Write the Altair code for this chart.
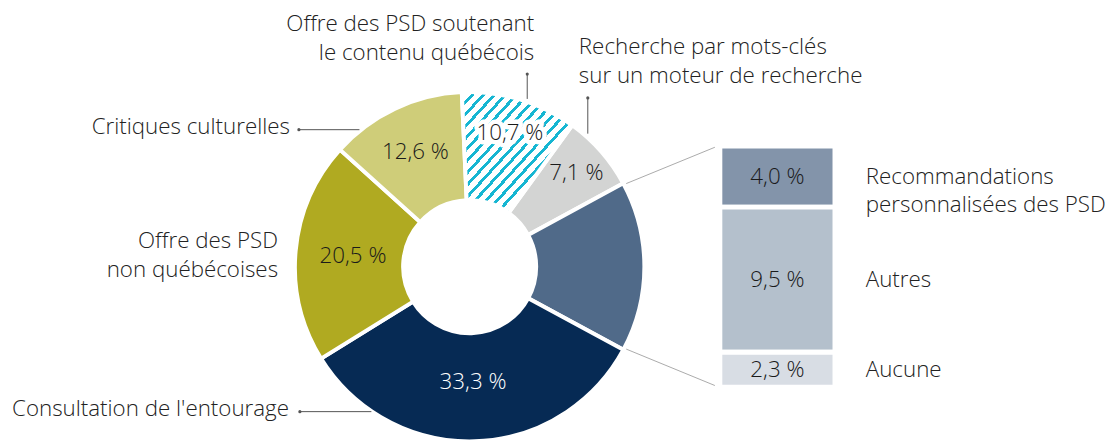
import math
import altair as alt
import pandas as pd

# ---- data -------------------------------------------------------------
categories = [
    "Offre des PSD soutenant le contenu québécois",
    "Recherche par mots-clés sur un moteur de recherche",
    "Recommandations (détail)",
    "Consultation de l'entourage",
    "Offre des PSD non québécoises",
    "Critiques culturelles",
]
shares = [10.7, 7.1, 15.8, 33.3, 20.5, 12.6]
slice_colors = ["#ffffff", "#d3d4d3", "#506a89", "#062a54", "#b0aa21", "#cfcd79"]

sub_categories = ["Recommandations personnalisées des PSD", "Autres", "Aucune"]
sub_labels = ["Recommandations\npersonnalisées des PSD", "Autres", "Aucune"]
sub_shares = [4.0, 9.5, 2.3]
sub_colors = ["#8394aa", "#b4c0cc", "#d8dde4"]

hatch_cat = categories[0]

# ---- tables -----------------------------------------------------------
donut_df = pd.DataFrame({"cat": categories, "v": shares, "ord": list(range(len(categories)))})
bar_df = pd.DataFrame({
    "sub": sub_categories,
    "lab": sub_labels,
    "v": sub_shares,
    "ord": [2, 1, 0],
})

FONT = "Open Sans"
FW = 300
FS = 22.5
FSN = 22.5
TXT = "#222222"
CX, CY = 465, 259
R_OUT, R_IN = 176, 67
theta_scale = alt.Scale(domain=[0, 100], range=[-0.045, 2 * math.pi - 0.045])

label_expr = "replace(format(datum.v, '.1f'), '.', ',') + ' %'"

donut_base = (
    alt.Chart(donut_df)
    .transform_stack(stack="v", groupby=[], as_=["v0", "v1"], sort=[alt.SortField("ord")])
    .transform_calculate(mid="(datum.v0 + datum.v1) / 2", lab=label_expr)
)

arcs = donut_base.mark_arc(
    innerRadius=R_IN, outerRadius=R_OUT, stroke="white", strokeWidth=4, x=CX, y=CY
).encode(
    theta=alt.Theta("v0:Q", scale=theta_scale),
    theta2="v1:Q",
    color=alt.Color("cat:N", scale=alt.Scale(domain=categories, range=slice_colors), legend=None),
)

# hatched fill made of hard-stop gradient stripes
cyan, white = "#16b6d2", "#ffffff"
n_stripes, frac = 20, 0.36
stops = []
for i in range(n_stripes):
    a, b, c = i / n_stripes, (i + frac) / n_stripes, (i + 1) / n_stripes
    stops += [
        alt.GradientStop(offset=a, color=cyan),
        alt.GradientStop(offset=b, color=cyan),
        alt.GradientStop(offset=b, color=white),
        alt.GradientStop(offset=c, color=white),
    ]
hatch_fill = alt.LinearGradient(gradient="linear", stops=stops, x1=0, y1=0, x2=1, y2=1)

hatch = donut_base.transform_filter(alt.datum.cat == hatch_cat).mark_arc(
    innerRadius=R_IN, outerRadius=R_OUT, stroke="white", strokeWidth=4, x=CX, y=CY, fill=hatch_fill
).encode(
    theta=alt.Theta("v0:Q", scale=theta_scale),
    theta2="v1:Q",
)


def slice_label(test, radius, color="#1a1a1a", halo=False):
    kw = dict(radius=radius, x=CX, y=CY, font=FONT, fontSize=FSN, fontWeight=FW,
              align="center", baseline="middle")
    if halo:
        kw.update(stroke="white", strokeWidth=9, strokeJoin="round", fill="white")
    else:
        kw.update(fill=color)
    return donut_base.transform_filter(test).mark_text(**kw).encode(
        theta=alt.Theta("mid:Q", scale=theta_scale),
        text="lab:N",
    )


lab_halo = slice_label(alt.datum.cat == hatch_cat, 141, halo=True)
lab_hatch = slice_label(alt.datum.cat == hatch_cat, 141)
lab_gray = slice_label(alt.datum.cat == categories[1], 143)
lab_navy = slice_label(alt.datum.cat == categories[3], 116, color="#ffffff")
lab_olive = slice_label(alt.datum.cat == categories[4], 118)
lab_light = slice_label(alt.datum.cat == categories[5], 128)

# ---- stacked bar (detail) ---------------------------------------------
y_scale = alt.Scale(domain=[0, 15.8], range=[380.5, 137.5])
bar_base = (
    alt.Chart(bar_df)
    .transform_stack(stack="v", groupby=[], as_=["v0", "v1"], sort=[alt.SortField("ord")])
    .transform_calculate(mid="(datum.v0 + datum.v1) / 2", txt=label_expr)
)
bars = bar_base.mark_bar(stroke="white", strokeWidth=5).encode(
    x=alt.value(717),
    x2=alt.value(833),
    y=alt.Y("v0:Q", scale=y_scale, axis=None),
    y2="v1:Q",
    fill=alt.Fill("sub:N", scale=alt.Scale(domain=sub_categories, range=sub_colors), legend=None),
)
bar_text = bar_base.mark_text(font=FONT, fontSize=FSN, fontWeight=FW, color="#1a1a1a",
                              align="center", baseline="middle").encode(
    x=alt.value(775),
    y=alt.Y("mid:Q", scale=y_scale, axis=None),
    text="txt:N",
)
bar_names = bar_base.mark_text(
    font=FONT, fontSize=FS, fontWeight=FW, color=TXT, align="left", baseline="middle",
    lineBreak="\n", lineHeight=29
).encode(
    x=alt.value(864),
    y=alt.Y("mid:Q", scale=y_scale, axis=None),
    text="lab:N",
)

# ---- annotations --------------------------------------------------------
one = pd.DataFrame({"k": [0]})


def rule(x1, y1, x2, y2, color="#555555"):
    return alt.Chart(one).mark_rule(color=color, strokeWidth=1).encode(
        x=alt.value(x1), y=alt.value(y1), x2=alt.value(x2), y2=alt.value(y2)
    )


def dot(x, y):
    return alt.Chart(one).mark_circle(color="#555555", size=10, opacity=1).encode(
        x=alt.value(x), y=alt.value(y)
    )


def note(lines, x, y, align):
    return alt.Chart(one).mark_text(
        font=FONT, fontSize=FS, fontWeight=FW, color=TXT, align=align,
        baseline="alphabetic", lineHeight=29
    ).encode(x=alt.value(x), y=alt.value(y), text=alt.value(lines))


annots = [
    note(["Offre des PSD soutenant", "le contenu québécois"], 530, 22, "right"),
    rule(523, 65, 523, 90), dot(523, 65),
    note(["Recherche par mots-clés", "sur un moteur de recherche"], 575, 45, "left"),
    rule(584, 89, 584, 125), dot(584, 89),
    note(["Critiques culturelles"], 284, 125, "right"),
    rule(293, 121, 354, 121), dot(293, 121),
    note(["Offre des PSD", "non québécoises"], 272, 240, "right"),
    note(["Consultation de l'entourage"], 283, 409, "right"),
    rule(294, 405, 366, 405), dot(294, 405),
    rule(622.7, 175.3, 712, 138.7, "#aaaaaa"),
    rule(622.7, 342, 712, 378.7, "#aaaaaa"),
]

chart = alt.layer(
    arcs, hatch, lab_halo, lab_hatch, lab_gray, lab_navy, lab_olive, lab_light,
    bars, bar_text, bar_names, *annots
).properties(
    width=1110, height=432, autosize=alt.AutoSizeParams(type="none"), padding=0, background="white"
).configure_view(stroke=None)

chart.save("out.html", embed_options={"renderer": "svg", "actions": False})
